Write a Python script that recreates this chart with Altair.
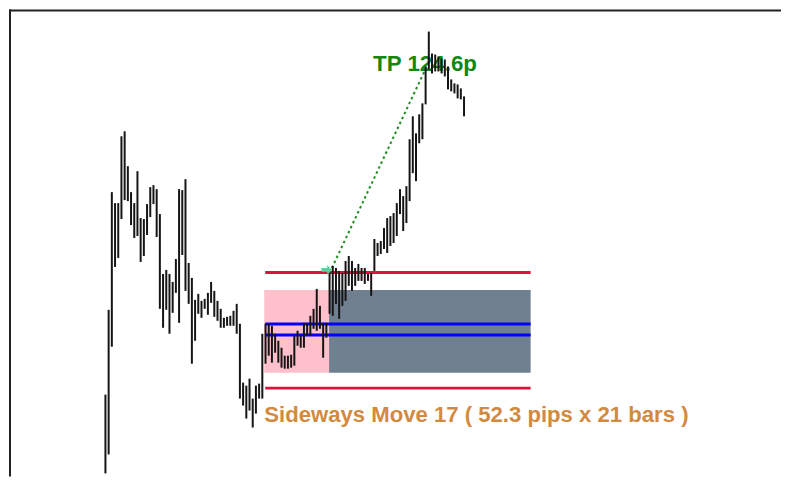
import altair as alt
import pandas as pd

# ---- data (price levels, one entry per bar) ----
highs = [
    1.10430, 1.10855, 1.11445, 1.11390, 1.11390, 1.11725, 1.11750, 1.11575, 1.11445, 1.11390,
    1.11550, 1.11315, 1.11310, 1.11385, 1.11470, 1.11480, 1.11460, 1.11335, 1.11035, 1.11055,
    1.11035, 1.10995, 1.11110, 1.11460, 1.11455, 1.11510, 1.11090, 1.11015, 1.10905, 1.10935,
    1.10900, 1.10910, 1.10940, 1.10995, 1.10950, 1.10900, 1.10860, 1.10815, 1.10820, 1.10825,
    1.10850, 1.10885, 1.10785, 1.10490, 1.10475, 1.10510, 1.10410, 1.10475, 1.10485, 1.10735,
    1.10785, 1.10785, 1.10775, 1.10735, 1.10700, 1.10665, 1.10625, 1.10625, 1.10630, 1.10725,
    1.10750, 1.10725, 1.10790, 1.10790, 1.10825, 1.10860, 1.10960, 1.10875, 1.10790, 1.10790,
    1.11060, 1.11075, 1.11065, 1.11050, 1.11040, 1.11100, 1.11125, 1.11100, 1.11065, 1.11085,
    1.11065, 1.11065, 1.11035, 1.11040, 1.11210, 1.11190, 1.11200, 1.11265, 1.11315, 1.11325,
    1.11340, 1.11390, 1.11460, 1.11425, 1.11475, 1.11710, 1.11825, 1.11740, 1.11835, 1.11890,
    1.12075, 1.12250, 1.12140, 1.12135, 1.12125, 1.12115, 1.12110, 1.12075, 1.12010, 1.11990,
    1.11985, 1.11965, 1.11925,
]
lows = [
    1.10035, 1.10130, 1.10670, 1.11070, 1.11115, 1.11310, 1.11405, 1.11400, 1.11280, 1.11215,
    1.11225, 1.11095, 1.11125, 1.11230, 1.11320, 1.11385, 1.11220, 1.10860, 1.10765, 1.10855,
    1.10735, 1.10840, 1.10940, 1.10790, 1.11130, 1.10950, 1.10885, 1.10585, 1.10700, 1.10835,
    1.10815, 1.10860, 1.10830, 1.10890, 1.10820, 1.10800, 1.10765, 1.10765, 1.10775, 1.10775,
    1.10775, 1.10735, 1.10410, 1.10375, 1.10310, 1.10350, 1.10265, 1.10335, 1.10410, 1.10410,
    1.10585, 1.10625, 1.10590, 1.10640, 1.10590, 1.10565, 1.10560, 1.10560, 1.10565, 1.10575,
    1.10675, 1.10665, 1.10665, 1.10725, 1.10725, 1.10760, 1.10750, 1.10760, 1.10615, 1.10715,
    1.10835, 1.10825, 1.10885, 1.10810, 1.10875, 1.10900, 1.10975, 1.10950, 1.10975, 1.11000,
    1.11000, 1.10985, 1.11000, 1.10925, 1.11050, 1.11125, 1.11135, 1.11160, 1.11140, 1.11175,
    1.11190, 1.11225, 1.11335, 1.11250, 1.11290, 1.11400, 1.11540, 1.11500, 1.11690, 1.11710,
    1.11885, 1.12060, 1.12040, 1.12050, 1.12050, 1.12040, 1.12025, 1.11960, 1.11950, 1.11940,
    1.11915, 1.11910, 1.11825,
]
bar_index = list(range(1, len(highs) + 1))

# sideways zone (bar units) and levels
zone_start = 50.6
zone_breakout = 70.85
zone_end = 133.8
zone_top = 1.10955
zone_bottom = 1.10540
red_levels = [1.110425, 1.104625]
blue_levels = [1.107835, 1.107285]

# take-profit projection
tp_bars = [71.0, 101.8]
tp_prices = [1.11040, 1.12090]
arrow_bar = [70.1]
arrow_price = [1.11055]

tp_label = "TP 124.6p"
zone_label = "Sideways Move 17 ( 52.3 pips x 21 bars )"
label_bars = [84.6, 50.6]
label_prices = [1.12050, 1.102915]

W, H = 774, 468
xs = alt.Scale(domain=[-29.12, 212.0], nice=False, zero=False)
ys = alt.Scale(domain=[1.10020, 1.12360], nice=False, zero=False)

bars = pd.DataFrame({"i": bar_index, "high": highs, "low": lows})

boxes = pd.DataFrame({
    "x0": [zone_start, zone_breakout],
    "x1": [zone_breakout, zone_end],
    "y0": [zone_bottom, zone_bottom],
    "y1": [zone_top, zone_top],
    "c": ["pre", "post"],
})
levels = pd.DataFrame({
    "x0": [zone_start + 0.3] * 4,
    "x1": [zone_end] * 4,
    "level": red_levels + blue_levels,
    "kind": ["red", "red", "blue", "blue"],
})
tp_line = pd.DataFrame({"b": tp_bars, "p": tp_prices})
tp_df = pd.DataFrame({"b": [label_bars[0]], "p": [label_prices[0]], "t": [tp_label]})
zone_df = pd.DataFrame({"b": [label_bars[1]], "p": [label_prices[1]], "t": [zone_label]})
arrow_df = pd.DataFrame({"b": arrow_bar, "p": arrow_price})
one = pd.DataFrame({"a": [0]})

box_layer = alt.Chart(boxes).mark_rect().encode(
    x=alt.X("x0:Q", scale=xs, axis=None),
    x2="x1:Q",
    y=alt.Y("y0:Q", scale=ys, axis=None),
    y2="y1:Q",
    color=alt.Color("c:N", scale=alt.Scale(domain=["pre", "post"], range=["#ffc0cb", "#708090"]), legend=None),
)

level_layer = alt.Chart(levels).mark_rule(strokeWidth=3).encode(
    x=alt.X("x0:Q", scale=xs, axis=None),
    x2="x1:Q",
    y=alt.Y("level:Q", scale=ys, axis=None),
    stroke=alt.Stroke("kind:N", scale=alt.Scale(domain=["red", "blue"], range=["#dc143c", "#0000ff"]), legend=None),
)

tp_layer = alt.Chart(tp_line).mark_line(color="#1c8f1c", strokeWidth=2, strokeDash=[2.5, 3]).encode(
    x=alt.X("b:Q", scale=xs, axis=None),
    y=alt.Y("p:Q", scale=ys, axis=None),
)

tp_text = alt.Chart(tp_df).mark_text(
    font="Liberation Sans", fontWeight="bold", fontSize=22.4,
    color="#0f880f", align="left", baseline="alphabetic",
).encode(
    x=alt.X("b:Q", scale=xs, axis=None),
    y=alt.Y("p:Q", scale=ys, axis=None),
    text="t:N",
)

zone_text = alt.Chart(zone_df).mark_text(
    font="Liberation Sans", fontWeight="bold", fontSize=22.2,
    color="#d38a40", align="left", baseline="alphabetic",
).encode(
    x=alt.X("b:Q", scale=xs, axis=None),
    y=alt.Y("p:Q", scale=ys, axis=None),
    text="t:N",
)

bar_layer = alt.Chart(bars).mark_rule(strokeWidth=2, color="#151515").encode(
    x=alt.X("i:Q", scale=xs, axis=None),
    y=alt.Y("low:Q", scale=ys, axis=None),
    y2="high:Q",
)

arrow_layer = alt.Chart(arrow_df).mark_point(
    shape="M-1,-0.35 L0.1,-0.35 L0.1,-0.95 L1,0 L0.1,0.95 L0.1,0.35 L-1,0.35 Z",
    filled=True, size=110, color="#5ccfa0", opacity=1,
).encode(
    x=alt.X("b:Q", scale=xs, axis=None),
    y=alt.Y("p:Q", scale=ys, axis=None),
)

frame_top = alt.Chart(one).mark_rule(color="#222222", strokeWidth=2).encode(
    x=alt.value(0), x2=alt.value(W), y=alt.value(1)
)
frame_left = alt.Chart(one).mark_rule(color="#222222", strokeWidth=2).encode(
    x=alt.value(1), y=alt.value(0), y2=alt.value(H)
)

chart = alt.layer(
    box_layer, level_layer, tp_layer, tp_text, zone_text, bar_layer, arrow_layer, frame_top, frame_left
).properties(
    width=W, height=H, padding=0, background="white"
).configure_view(stroke=None)

chart.save("out.html", embed_options={"renderer": "svg", "actions": False})
